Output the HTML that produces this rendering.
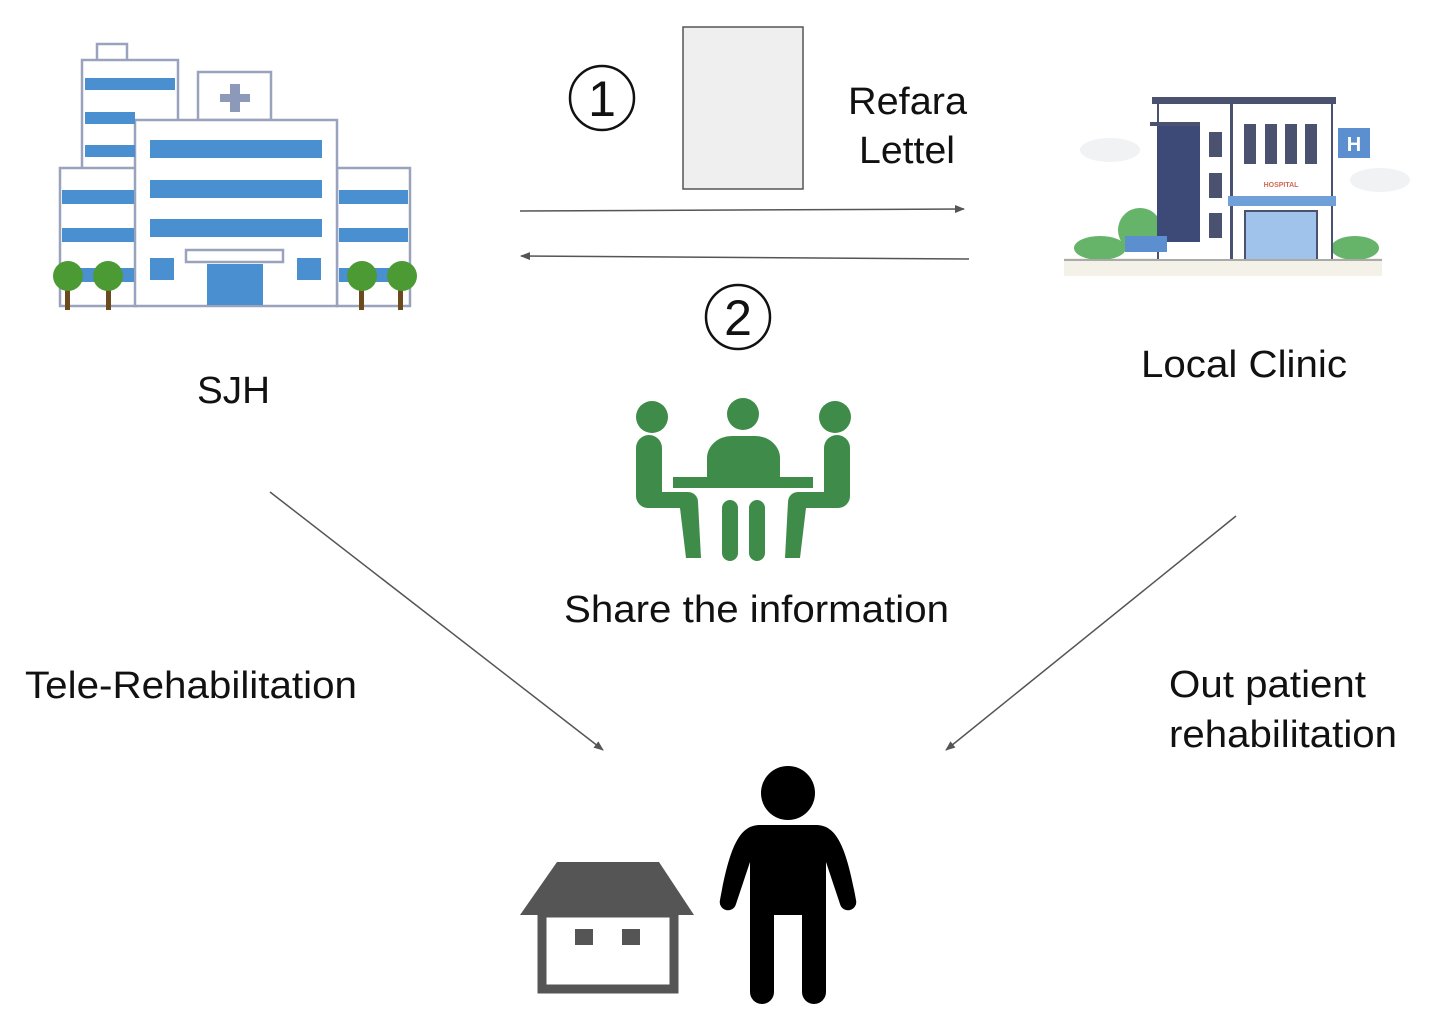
<!DOCTYPE html>
<html><head><meta charset="utf-8"><style>
html,body{margin:0;padding:0;background:#fff;}
svg{display:block;}
text{font-family:"Liberation Sans",Arial,sans-serif;fill:#111;}
</style></head><body>
<svg width="1440" height="1033" viewBox="0 0 1440 1033" xmlns="http://www.w3.org/2000/svg">
<defs>
<marker id="ah" markerWidth="10" markerHeight="8" refX="9" refY="4" orient="auto" markerUnits="userSpaceOnUse">
<path d="M0,0 L10,4 L0,8 z" fill="#555"/></marker>
</defs>

<!-- SJH hospital -->
<g stroke="#9aa3bd" stroke-width="2.5" fill="#fff">
<rect x="97" y="44" width="30" height="17"/>
<rect x="82" y="60" width="96" height="110"/>
<rect x="198" y="72" width="73" height="48"/>
<rect x="60" y="168" width="76" height="138"/>
<rect x="337" y="168" width="73" height="138"/>
<rect x="135" y="120" width="202" height="186"/>
<rect x="186" y="250" width="97" height="12"/>
</g>
<g fill="#4a90d0">
<rect x="85" y="78" width="90" height="12"/>
<rect x="85" y="112" width="50" height="12"/>
<rect x="85" y="145" width="50" height="12"/>
<rect x="62" y="190" width="72" height="14"/>
<rect x="62" y="228" width="72" height="14"/>
<rect x="62" y="268" width="72" height="14"/>
<rect x="339" y="190" width="69" height="14"/>
<rect x="339" y="228" width="69" height="14"/>
<rect x="339" y="268" width="69" height="14"/>
<rect x="150" y="140" width="172" height="18"/>
<rect x="150" y="180" width="172" height="18"/>
<rect x="150" y="219" width="172" height="18"/>
<rect x="150" y="258" width="24" height="22"/>
<rect x="297" y="258" width="24" height="22"/>
<rect x="207" y="264" width="56" height="41"/>
</g>
<path d="M230,84h10v10h10v8h-10v10h-10v-10h-10v-8h10z" fill="#8d99b8"/>
<g>
<g fill="#6b4a1e"><rect x="65" y="280" width="5" height="30"/><rect x="106" y="280" width="5" height="30"/><rect x="359" y="280" width="5" height="30"/><rect x="398" y="280" width="5" height="30"/></g>
<g fill="#4c9a34"><circle cx="68" cy="276" r="15"/><circle cx="108" cy="276" r="15"/><circle cx="362" cy="276" r="15"/><circle cx="402" cy="276" r="15"/></g>
</g>

<!-- Local clinic -->
<g>
<ellipse cx="1110" cy="150" rx="30" ry="12" fill="#f0f2f4"/>
<ellipse cx="1380" cy="180" rx="30" ry="12" fill="#f0f2f4"/>
<rect x="1064" y="258" width="318" height="18" fill="#f3f1e8"/>
<ellipse cx="1140" cy="230" rx="22" ry="22" fill="#66b36a"/>
<ellipse cx="1100" cy="248" rx="26" ry="12" fill="#66b36a"/>
<ellipse cx="1355" cy="248" rx="24" ry="12" fill="#66b36a"/>
<rect x="1158" y="103" width="174" height="157" fill="#fff" stroke="#4a5270" stroke-width="2"/>
<rect x="1152" y="97" width="184" height="7" fill="#4a5270"/>
<rect x="1150" y="122" width="50" height="4" fill="#4a5270"/>
<rect x="1157" y="126" width="43" height="116" fill="#3d4a78"/>
<rect x="1209" y="132" width="13" height="25" fill="#4a5270"/>
<rect x="1209" y="173" width="13" height="25" fill="#4a5270"/>
<rect x="1209" y="213" width="13" height="25" fill="#4a5270"/>
<rect x="1230" y="103" width="3" height="157" fill="#4a5270"/>
<rect x="1244" y="124" width="12" height="40" fill="#4a5270"/>
<rect x="1265" y="124" width="12" height="40" fill="#4a5270"/>
<rect x="1285" y="124" width="12" height="40" fill="#4a5270"/>
<rect x="1305" y="124" width="12" height="40" fill="#4a5270"/>
<text x="1281" y="187" font-size="7" text-anchor="middle" style="fill:#d06a55;font-weight:bold">HOSPITAL</text>
<rect x="1228" y="196" width="108" height="10" fill="#6fa0d8"/>
<rect x="1245" y="211" width="72" height="49" fill="#9fc3ea" stroke="#4a5270" stroke-width="2"/>
<rect x="1338" y="128" width="32" height="30" fill="#5b8fd0"/>
<text x="1354" y="151" font-size="20" text-anchor="middle" style="fill:#fff;font-weight:bold">H</text>
<rect x="1125" y="236" width="42" height="16" fill="#5b8fd0"/>
<rect x="1064" y="259" width="318" height="2" fill="#aaa"/>
</g>

<!-- referral letter -->
<rect x="683" y="27" width="120" height="162" fill="#efefef" stroke="#555" stroke-width="1.5"/>
<text x="848" y="114" font-size="38" textLength="119" lengthAdjust="spacingAndGlyphs">Refara</text>
<text x="859" y="163" font-size="38" textLength="96" lengthAdjust="spacingAndGlyphs">Lettel</text>

<!-- circled numbers -->
<circle cx="602" cy="98" r="32" fill="none" stroke="#111" stroke-width="2.5"/>
<text x="602" y="116" font-size="50" text-anchor="middle">1</text>
<circle cx="738" cy="317" r="32" fill="none" stroke="#111" stroke-width="2.5"/>
<text x="738" y="335" font-size="50" text-anchor="middle">2</text>

<!-- arrows -->
<line x1="520" y1="211" x2="964" y2="209" stroke="#555" stroke-width="1.5" marker-end="url(#ah)"/>
<line x1="969" y1="259" x2="521" y2="256" stroke="#555" stroke-width="1.5" marker-end="url(#ah)"/>
<line x1="270" y1="492" x2="603" y2="750" stroke="#555" stroke-width="1.5" marker-end="url(#ah)"/>
<line x1="1236" y1="516" x2="946" y2="750" stroke="#555" stroke-width="1.5" marker-end="url(#ah)"/>

<!-- labels -->
<text x="197" y="403" font-size="38" textLength="73" lengthAdjust="spacingAndGlyphs">SJH</text>
<text x="1141" y="377" font-size="38" textLength="206" lengthAdjust="spacingAndGlyphs">Local Clinic</text>
<text x="564" y="622" font-size="38" textLength="385" lengthAdjust="spacingAndGlyphs">Share the information</text>
<text x="25" y="698" font-size="38" textLength="332" lengthAdjust="spacingAndGlyphs">Tele-Rehabilitation</text>
<text x="1169" y="697" font-size="38" textLength="197" lengthAdjust="spacingAndGlyphs">Out patient</text>
<text x="1169" y="747" font-size="38" textLength="228" lengthAdjust="spacingAndGlyphs">rehabilitation</text>

<!-- meeting icon -->
<g fill="#3f8c4a">
<circle cx="652" cy="417" r="16"/>
<circle cx="743" cy="414" r="16"/>
<circle cx="835" cy="417" r="16"/>
<path d="M636,448 a13,13 0 0 1 26,0 V492 H688 a10,10 0 0 1 10,10 L701,558 H686 L680,508 H648 a12,12 0 0 1 -12,-12 z"/>
<path d="M850,448 a13,13 0 0 0 -26,0 V492 H798 a10,10 0 0 0 -10,10 L785,558 H800 L806,508 H838 a12,12 0 0 0 12,-12 z"/>
<path d="M707,478 V458 a25,22 0 0 1 25,-22 H755 a25,22 0 0 1 25,22 V478 z"/>
<rect x="673" y="477" width="140" height="11"/>
<rect x="722" y="500" width="16" height="61" rx="8"/>
<rect x="749" y="500" width="16" height="61" rx="8"/>
</g>

<!-- house -->
<polygon points="520,915 557,862 659,862 694,915" fill="#555"/>
<rect x="542" y="913" width="132" height="76" fill="none" stroke="#555" stroke-width="9"/>
<rect x="575" y="929" width="18" height="16" fill="#555"/>
<rect x="622" y="929" width="18" height="16" fill="#555"/>

<!-- person -->
<g fill="#000">
<circle cx="788" cy="793" r="27"/>
<path d="M760,825 H816 C836,825 846,845 856,900 a8,8 0 0 1 -16,4 L826,862 V992 a12,12 0 0 1 -24,0 V915 H774 V992 a12,12 0 0 1 -24,0 V862 L736,904 a8,8 0 0 1 -16,-4 C730,845 740,825 760,825 z"/>
</g>
</svg>
</body></html>
